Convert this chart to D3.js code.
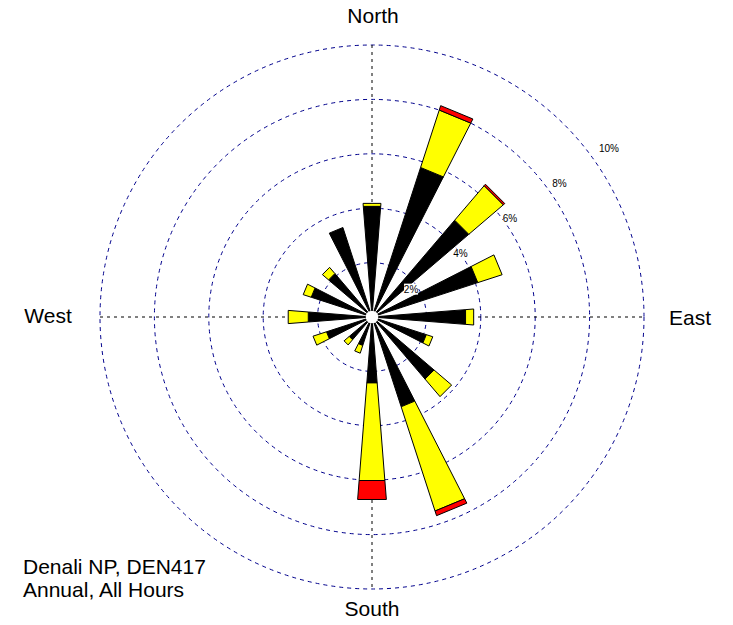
<!DOCTYPE html>
<html><head><meta charset="utf-8">
<script src="https://cdn.jsdelivr.net/npm/d3@7"></script>
<style>html,body{margin:0;padding:0;background:#fff;}svg{display:block;}</style>
</head><body>
<svg id="c" width="733" height="625"></svg>
<script>
// Data (percent frequency by direction, per speed class)
const directions = ["N","NNE","NE","ENE","E","ESE","SE","SSE","S","SSW","SW","WSW","W","WNW","NW","NNW"];
const class1 = [4.08, 5.78, 4.68, 4.09, 3.45, 2.10, 3.00, 3.47, 2.43, 1.10, 1.10, 1.76, 2.35, 2.35, 2.10, 3.46]; // black
const class2 = [0.11, 2.22, 1.67, 0.94, 0.30, 0.25, 0.85, 4.03, 3.60, 0.30, 0.25, 0.52, 0.74, 0.31, 0.30, 0.00]; // yellow
const class3 = [0.00, 0.17, 0.07, 0.00, 0.00, 0.00, 0.00, 0.18, 0.70, 0.00, 0.00, 0.00, 0.00, 0.00, 0.00, 0.00]; // red
const ringTicks = [2, 4, 6, 8, 10];
const compassLabels = [{t:"North",a:0},{t:"East",a:90},{t:"South",a:180},{t:"West",a:270}];
const stationLines = ["Denali NP, DEN417", "Annual, All Hours"];

const svg = d3.select("#c");
const cx = 372, cy = 317;
const r = d3.scaleLinear().domain([0, 10]).range([0, 272]);
const ang = d3.scaleLinear().domain([0, directions.length]).range([0, 2*Math.PI]);
const halfW = 4.5 * Math.PI / 180;
const g = svg.append("g").attr("transform", `translate(${cx},${cy})`);
const pt = (rad, a) => [rad*Math.sin(a), -rad*Math.cos(a)];

// rings
g.selectAll("circle.ring").data(ringTicks).join("circle")
  .attr("r", d => r(d)).attr("fill", "none")
  .attr("stroke", "#00008c").attr("stroke-width", 1).attr("stroke-dasharray", "4,4");
// axes
const R = r(10);
g.append("line").attr("x1", 0).attr("x2", 0).attr("y1", -R).attr("y2", R)
  .attr("stroke", "#000").attr("stroke-dasharray", "3,4");
g.append("line").attr("y1", 0).attr("y2", 0).attr("x1", -R).attr("x2", R)
  .attr("stroke", "#000").attr("stroke-dasharray", "3,4");

// petals
const segs = [];
directions.forEach((d, i) => {
  const a = ang(i);
  const v1 = class1[i], v2 = v1 + class2[i], v3 = v2 + class3[i];
  segs.push({a, r0: 0, r1: v1, fill: "#000000"});
  if (class2[i] > 0) segs.push({a, r0: v1, r1: v2, fill: "#ffff00"});
  if (class3[i] > 0) segs.push({a, r0: v2, r1: v3, fill: "#ff0000"});
});
const line = d3.line();
g.selectAll("path.seg").data(segs).join("path")
  .attr("d", s => line([pt(r(s.r0), s.a - halfW), pt(r(s.r1), s.a - halfW), pt(r(s.r1), s.a + halfW), pt(r(s.r0), s.a + halfW)]) + "Z")
  .attr("fill", s => s.fill).attr("stroke", "#000").attr("stroke-width", 1).attr("stroke-linejoin", "miter");

g.append("circle").attr("r", 6.3).attr("fill", "#fff");

// ring labels
const la = 54.5 * Math.PI / 180;
const lbl = g.selectAll("g.rl").data(ringTicks).join("g")
  .attr("transform", d => { const rr = r(d)*1.117 - 12.8; const p = pt(rr, la); return `translate(${p[0]},${p[1]})`; });
lbl.append("rect").attr("x", d => d === 10 ? -9 : -7).attr("y", -5.5).attr("width", d => d === 10 ? 18 : 14).attr("height", 11).attr("fill", "#fff");
lbl.append("text").text(d => d + "%").attr("text-anchor", "middle").attr("dy", "0.35em")
  .attr("font-family", "Liberation Sans, Arial, sans-serif").attr("font-size", 10).attr("fill", "#000");

// compass labels
const cpos = {North:[373,16], South:[372,609], West:[48,316], East:[690,318]};
svg.selectAll("text.cmp").data(compassLabels).join("text")
  .attr("x", d => cpos[d.t][0]).attr("y", d => cpos[d.t][1]).attr("dy", "0.35em")
  .attr("text-anchor", "middle").text(d => d.t)
  .attr("font-family", "Liberation Sans, Arial, sans-serif").attr("font-size", 21).attr("fill", "#000");

svg.selectAll("text.st").data(stationLines).join("text")
  .attr("x", 23).attr("y", (d, i) => 574 + i*23).text(d => d)
  .attr("font-family", "Liberation Sans, Arial, sans-serif").attr("font-size", 21).attr("fill", "#000");
</script>
</body></html>
